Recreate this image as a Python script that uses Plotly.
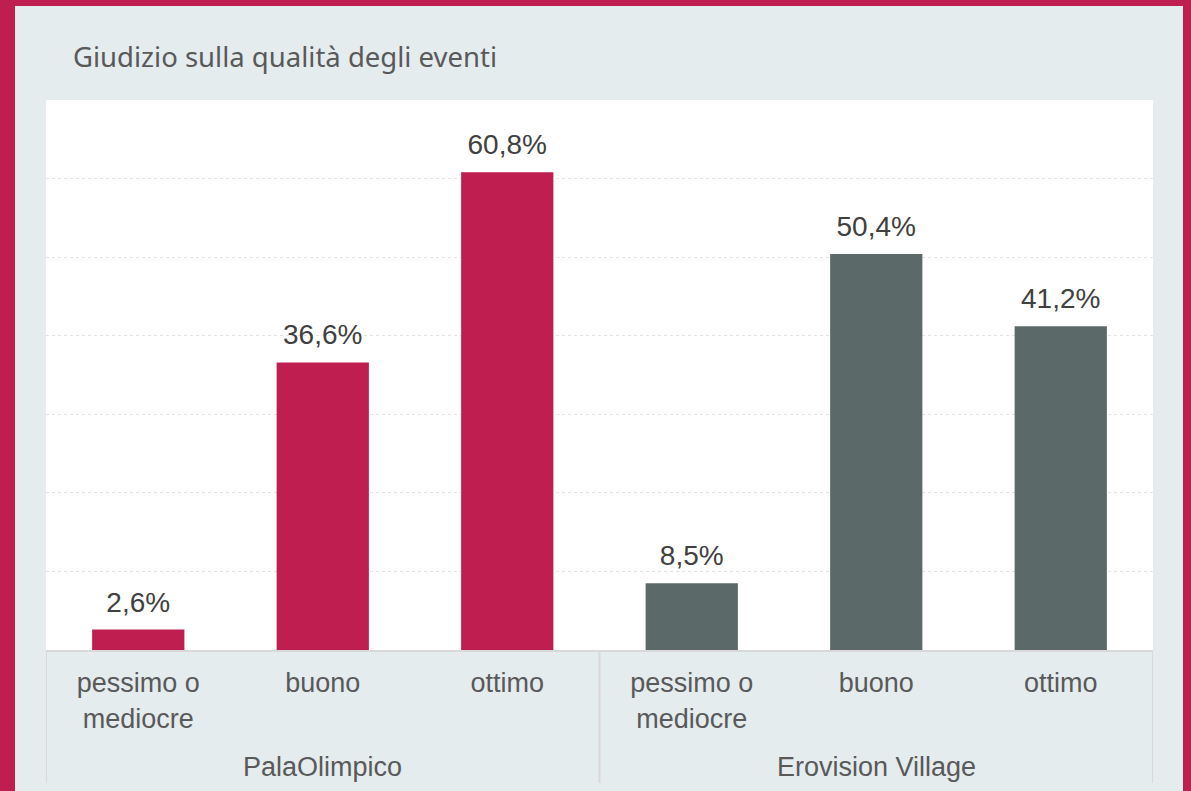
import plotly.graph_objects as go

gruppi = ["PalaOlimpico", "Erovision Village"]
giudizi = ["pessimo o<br>mediocre", "buono", "ottimo"]
valori_pala = [2.6, 36.6, 60.8]
valori_erovision = [8.5, 50.4, 41.2]
colore_pala = "#BE1E50"
colore_erovision = "#5B6969"

bg = "#E4ECEE"
crimson = "#BE1E50"

# one slot per category on a shared index axis
n = len(giudizi)
x_pala = list(range(n))
x_erovision = list(range(n, 2 * n))


def etichetta(v):
    return f"{v:.1f}".replace(".", ",") + "%"


fig = go.Figure()
for xs, vals, col in [(x_pala, valori_pala, colore_pala),
                      (x_erovision, valori_erovision, colore_erovision)]:
    fig.add_trace(go.Bar(
        x=xs, y=vals, width=0.5,
        marker=dict(color=col, line=dict(width=0)),
        hoverinfo="y",
    ))
    fig.add_trace(go.Scatter(
        x=xs, y=vals,
        mode="markers+text",
        text=[etichetta(v) for v in vals],
        textposition="top center",
        marker=dict(size=16, opacity=0),
        textfont=dict(family="Liberation Sans, Arial", size=28, color="#404040"),
        hoverinfo="skip",
    ))

# paper coords: plot area is 1107 x 550 px
W, H = 1107, 550
shapes = [
    dict(type="rect", xref="paper", yref="paper", layer="above",
         x0=-46 / W, x1=-31 / W, y0=-141 / H, y1=1 + 100 / H,
         fillcolor=crimson, line=dict(width=0)),
    dict(type="rect", xref="paper", yref="paper", layer="above",
         x0=-46 / W, x1=1 + 38 / W, y0=1 + 94 / H, y1=1 + 100 / H,
         fillcolor=crimson, line=dict(width=0)),
    dict(type="rect", xref="paper", yref="paper", layer="above",
         x0=1 + 30 / W, x1=1 + 38 / W, y0=-141 / H, y1=1 + 100 / H,
         fillcolor=crimson, line=dict(width=0)),
]
# group dividers below the axis
for k in range(len(gruppi) + 1):
    shapes.append(dict(type="line", xref="x", yref="paper",
                       x0=k * n - 0.5, x1=k * n - 0.5, y0=0, y1=-133 / H,
                       line=dict(color="#D9D9D9", width=2)))

annotations = []
for k, g in enumerate(gruppi):
    annotations.append(dict(
        text=g, x=k * n + (n - 1) / 2, xref="x",
        y=-117 / H, yref="paper", yanchor="middle",
        showarrow=False,
        font=dict(family="Liberation Sans, Arial", size=27, color="#595959"),
    ))

fig.update_layout(
    width=1191, height=791,
    margin=dict(l=46, r=38, t=100, b=141),
    paper_bgcolor=bg,
    plot_bgcolor="white",
    showlegend=False,
    font=dict(family="Liberation Sans, Arial", size=27, color="#595959"),
    title=dict(
        text="Giudizio sulla qualità degli eventi",
        font=dict(family="Noto Sans, Open Sans", size=27.5, color="#595959"),
        x=73 / 1191, xanchor="left", xref="container",
        y=1 - 57 / 791, yanchor="middle", yref="container",
    ),
    shapes=shapes,
    annotations=annotations,
)

fig.update_xaxes(
    range=[-0.5, 2 * n - 0.5],
    tickvals=x_pala + x_erovision, ticktext=giudizi * 2,
    showline=True, linecolor="#D9D9D9", linewidth=2,
    tickfont=dict(family="Liberation Sans, Arial", size=27, color="#595959"),
    ticks="", showgrid=False, zeroline=False, ticklabelstandoff=8,
)
fig.update_yaxes(
    range=[0, 70], dtick=10, showticklabels=False,
    showgrid=True, gridcolor="#E3E3E3", griddash="dot", gridwidth=1,
    zeroline=False, showline=False,
)

fig.write_html("out.html", config={"displayModeBar": False},
               post_script="document.body.style.margin='0';")
